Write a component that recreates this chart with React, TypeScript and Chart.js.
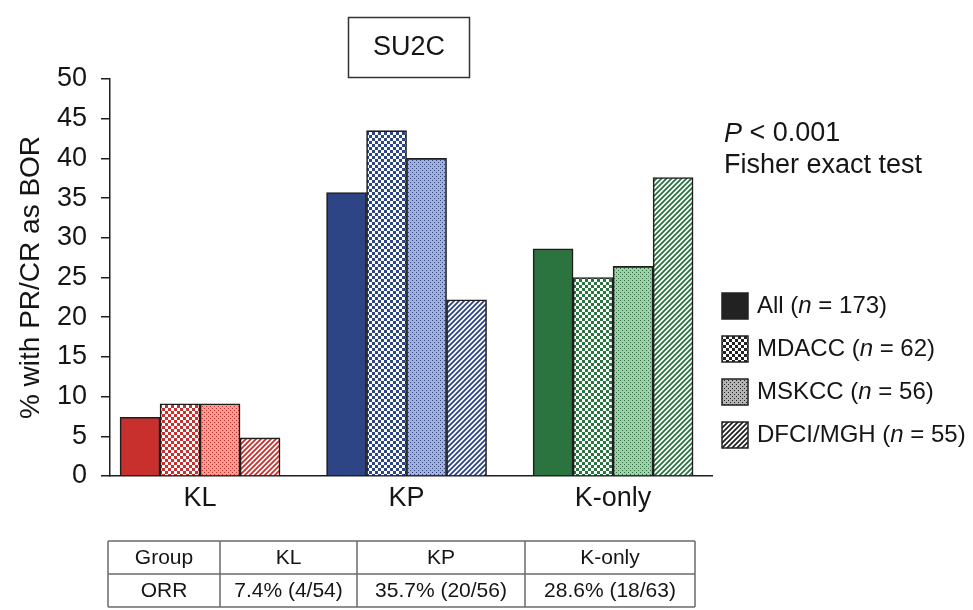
import { useEffect, useRef } from 'react';
import { Chart, registerables } from 'chart.js';

Chart.register(...registerables);

// ---- data ----
const GROUPS = ['KL', 'KP', 'K-only'];
const SOURCES = ['All', 'MDACC', 'MSKCC', 'DFCI/MGH'];
const SOURCE_N = [173, 62, 56, 55];

const ALL = [7.4, 35.7, 28.6];
const MDACC = [9.1, 43.5, 25.0];
const MSKCC = [9.1, 40.0, 26.4];
const DFCI_MGH = [4.8, 22.2, 37.6];

const ORR_RESPONDERS = [4, 20, 18];
const ORR_TOTALS = [54, 56, 63];

const Y_MIN = 0;
const Y_MAX = 50;
const Y_STEP = 5;

const PANEL_TITLE = 'SU2C';
const Y_TITLE = '% with PR/CR as BOR';
const P_VALUE = '0.001';
const TEST_NAME = 'Fisher exact test';

// ---- styling ----
const FONT = "'Liberation Sans', Arial, Helvetica, sans-serif";
const INK = '#151515';
const GROUP_COLORS = [
  { main: '#c8302d', tint: '#eba193' },
  { main: '#2d4585', tint: '#a6b1d4' },
  { main: '#2b7440', tint: '#a6cbad' },
];
const LEGEND_COLOR = { main: '#222222', tint: '#b4b4b4' };
type FillStyle = 'solid' | 'checker' | 'dots' | 'hatch';
const SOURCE_STYLES: FillStyle[] = ['solid', 'checker', 'dots', 'hatch'];

function makeFill(style: FillStyle, main: string, tint: string): string | CanvasPattern {
  if (style === 'solid') return main;
  const tile = document.createElement('canvas');
  const size = style === 'checker' ? 6 : style === 'dots' ? 4 : 5;
  tile.width = size;
  tile.height = size;
  const g = tile.getContext('2d')!;
  if (style === 'checker') {
    g.fillStyle = '#ffffff';
    g.fillRect(0, 0, size, size);
    g.fillStyle = main;
    g.fillRect(0, 0, 3, 3);
    g.fillRect(3, 3, 3, 3);
  } else if (style === 'dots') {
    g.fillStyle = tint;
    g.fillRect(0, 0, size, size);
    g.fillStyle = main;
    g.fillRect(0, 0, 1, 1);
    g.fillRect(2, 2, 1, 1);
  } else {
    g.fillStyle = '#ffffff';
    g.fillRect(0, 0, size, size);
    g.strokeStyle = main;
    g.lineWidth = 1.8;
    g.beginPath();
    g.moveTo(-1, size + 1);
    g.lineTo(size + 1, -1);
    g.moveTo(-1, 1);
    g.lineTo(1, -1);
    g.moveTo(size - 1, size + 1);
    g.lineTo(size + 1, size - 1);
    g.stroke();
  }
  return g.createPattern(tile, 'repeat')!;
}

type Part = { t: string; i?: boolean };
function drawRich(ctx: CanvasRenderingContext2D, parts: Part[], x: number, y: number, size: number) {
  let cx = x;
  for (const p of parts) {
    ctx.font = `${p.i ? 'italic ' : ''}${size}px ${FONT}`;
    ctx.fillText(p.t, cx, y);
    cx += ctx.measureText(p.t).width;
  }
}

const annotations = {
  id: 'annotations',
  afterDraw(chart: Chart) {
    const ctx = chart.ctx;
    ctx.save();
    ctx.fillStyle = INK;
    ctx.strokeStyle = '#333';
    ctx.lineWidth = 1.5;

    // panel title box
    ctx.strokeRect(348.5, 17.5, 121, 60);
    ctx.font = `27px ${FONT}`;
    ctx.textAlign = 'center';
    ctx.textBaseline = 'middle';
    ctx.fillText(PANEL_TITLE, 409, 48);

    // statistics note
    ctx.textAlign = 'left';
    drawRich(ctx, [{ t: 'P', i: true }, { t: ' < ' + P_VALUE }], 724, 134, 27);
    drawRich(ctx, [{ t: TEST_NAME }], 724, 166, 27);

    // legend
    SOURCES.forEach((name, k) => {
      const cy = 306 + k * 43;
      const fill = makeFill(SOURCE_STYLES[k], LEGEND_COLOR.main, LEGEND_COLOR.tint);
      ctx.fillStyle = fill as any;
      ctx.fillRect(722, cy - 13, 26, 26);
      ctx.strokeStyle = '#222';
      ctx.lineWidth = 1.5;
      ctx.strokeRect(722, cy - 13, 26, 26);
      ctx.fillStyle = INK;
      drawRich(ctx, [{ t: name + ' (' }, { t: 'n', i: true }, { t: ' = ' + SOURCE_N[k] + ')' }], 757, cy, 24);
    });

    // ORR table
    const cols = [108, 220, 357, 525, 695];
    const rows = [541, 574, 607];
    ctx.strokeStyle = '#6b6b6b';
    ctx.lineWidth = 1.5;
    ctx.beginPath();
    rows.forEach((y) => {
      ctx.moveTo(cols[0], y);
      ctx.lineTo(cols[cols.length - 1], y);
    });
    cols.forEach((x) => {
      ctx.moveTo(x, rows[0]);
      ctx.lineTo(x, rows[rows.length - 1]);
    });
    ctx.stroke();
    const header = ['Group', ...GROUPS];
    const orr = ['ORR', ...ALL.map((v, i) => `${v.toFixed(1)}% (${ORR_RESPONDERS[i]}/${ORR_TOTALS[i]})`)];
    ctx.font = `21px ${FONT}`;
    ctx.textAlign = 'center';
    ctx.fillStyle = INK;
    [header, orr].forEach((row, r) => {
      row.forEach((txt, c) => {
        ctx.fillText(txt, (cols[c] + cols[c + 1]) / 2, (rows[r] + rows[r + 1]) / 2 + 1);
      });
    });
    ctx.restore();
  },
};

export default function App() {
  const canvasRef = useRef<HTMLCanvasElement>(null);

  useEffect(() => {
    const canvas = canvasRef.current;
    if (!canvas) return;
    const series = [ALL, MDACC, MSKCC, DFCI_MGH];
    const chart = new Chart(canvas, {
      type: 'bar',
      data: {
        datasets: series.map((vals, k) => ({
          label: SOURCES[k],
          data: vals.map((v, i) => ({ x: i, y: v })),
          backgroundColor: GROUP_COLORS.map((c) => makeFill(SOURCE_STYLES[k], c.main, c.tint)) as any,
          borderColor: '#1e1e1e',
          borderWidth: 1.6,
          barThickness: 40,
        })),
      },
      plugins: [annotations],
      options: {
        responsive: false,
        animation: false,
        devicePixelRatio: 1,
        layout: { padding: { top: 79, right: 261, bottom: 0, left: 0 } },
        plugins: { legend: { display: false }, tooltip: { enabled: false } },
        scales: {
          x: {
            type: 'linear',
            offset: false,
            min: -0.436,
            max: 2.479,
            grid: { display: false, drawTicks: false },
            border: { display: true, color: '#1e1e1e', width: 1.5 },
            ticks: {
              autoSkip: false,
              maxRotation: 0,
              padding: 6,
              color: INK,
              font: { size: 27, family: FONT },
              callback: (v: any) => GROUPS[v] ?? '',
            },
            afterBuildTicks: (s: any) => {
              s.ticks = GROUPS.map((_, i) => ({ value: i }));
            },
            afterFit: (s: any) => {
              s.height = 134;
            },
          },
          y: {
            min: Y_MIN,
            max: Y_MAX,
            ticks: { stepSize: Y_STEP, padding: 14, color: INK, font: { size: 27, family: FONT } },
            grid: { drawOnChartArea: false, drawTicks: true, tickLength: 9, color: '#1e1e1e', lineWidth: 1.5 },
            border: { color: '#1e1e1e', width: 1.5 },
            title: {
              display: true,
              text: Y_TITLE,
              color: INK,
              font: { size: 28, family: FONT },
              padding: { top: 14, bottom: 0 },
            },
            afterFit: (s: any) => {
              s.width = 110;
            },
          },
        },
      } as any,
    });
    return () => chart.destroy();
  }, []);

  return (
    <div style={{ position: 'absolute', left: 0, top: 0, width: 973, height: 610, background: '#fff' }}>
      <canvas ref={canvasRef} width={973} height={610} style={{ display: 'block' }} />
    </div>
  );
}
